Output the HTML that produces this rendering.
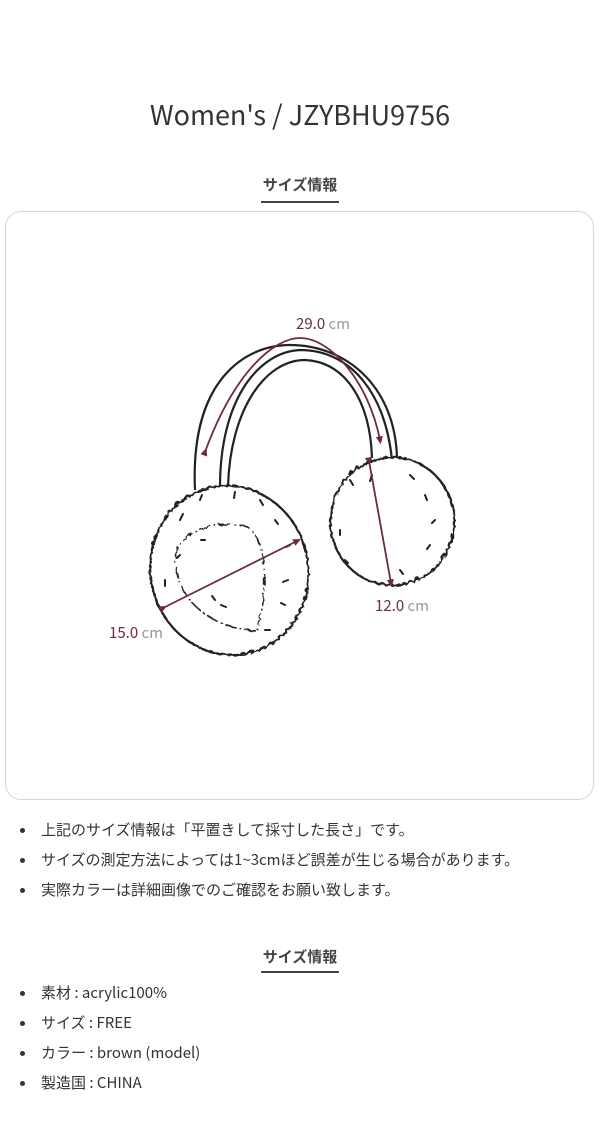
<!DOCTYPE html>
<html><head><meta charset="utf-8"><style>
body{margin:0;width:600px;height:1128px;background:#fff;font-family:"Noto Sans CJK JP","Liberation Sans",sans-serif;color:#333;position:relative;overflow:hidden}
.t{position:absolute;left:0;width:600px;text-align:center}
.h{position:absolute;left:0;width:600px;text-align:center;font-size:15px;font-weight:bold;color:#444;line-height:20px}
.u{position:absolute;left:261px;width:78px;height:2px;background:#444}
.box{position:absolute;left:5px;top:211px;width:587px;height:587px;border:1.5px solid #d6d6d6;border-radius:16px}
ul{position:absolute;left:0;margin:0;padding:0;list-style:none;font-size:15px;color:#333}
li{position:relative;padding-left:41px;height:30px;line-height:20px}
li:before{content:"";position:absolute;left:20px;top:8px;width:5px;height:5px;border-radius:50%;background:#333}
</style></head><body>
<div class="t" style="top:94px;font-size:27px;color:#333;line-height:40px">Women's / JZYBHU9756</div>
<div class="h" style="top:175px">サイズ情報</div><div class="u" style="top:201px"></div>
<div class="box"></div>
<svg style="position:absolute;left:0;top:0" width="600" height="1128">
<defs><filter id="f"><feTurbulence baseFrequency="0.15" numOctaves="1" seed="3"/><feDisplacementMap in="SourceGraphic" scale="4"/></filter>
<marker id="a" markerUnits="userSpaceOnUse" markerWidth="9" markerHeight="9" refX="4.5" refY="4.5" orient="auto"><path d="M1,1L9,4.5L1,8z" fill="#6b2b47"/></marker></defs>
<g fill="none" stroke="#222" stroke-width="2.2">
<path d="M195,490 C190,380 245,345 290,345 C345,345 395,385 397,458"/>
<path d="M220,487 C220,400 258,352 300,350 C350,350 385,392 392,460"/>
<path d="M228,487 C230,410 265,360 305,360 C345,362 370,400 372,458"/>
</g>
<g filter="url(#f)" fill="#fff" stroke="#222" stroke-width="2.3">
<ellipse cx="228" cy="569" rx="79" ry="85" transform="rotate(-15 228 569)"/>
<ellipse cx="391" cy="520" rx="62" ry="64"/>
<path d="M255,630 C200,625 170,590 175,550 C185,525 220,520 245,525 C270,540 265,600 255,630" stroke-width="1.5" stroke-dasharray="12 3 2 3"/>
</g>
<g stroke="#222" stroke-width="2" stroke-linecap="round">
<path d="M180,520l3,-6M200,500l2,-5M235,492l-1,6M260,500l3,5M275,520l3,4M290,545l-4,2M288,580l-5,2M285,605l-4,-2M270,630l-5,0M180,555l-3,3M205,540l-4,0M215,600l-3,-4M226,607l-5,-2M165,580l0,6M350,480l3,5M372,475l-2,6M410,475l4,4M425,495l2,5M435,520l-3,3M430,545l-3,4M340,530l0,5M345,560l3,3M400,570l3,4"/>
</g>
<g stroke="#6b2b47" stroke-width="1.8" fill="none">
<path d="M205,452 C235,370 275,338 300,338 C330,338 368,380 380,440" marker-start="url(#a)" marker-end="url(#a)"/>
<path d="M163,608 L297,541" marker-start="url(#a)" marker-end="url(#a)"/>
<path d="M369,461 L391,583" marker-start="url(#a)" marker-end="url(#a)"/>
</g>
<g font-size="15" font-family="Noto Sans CJK JP,Liberation Sans,sans-serif">
<text x="296" y="329" fill="#6b2b47">29.0 <tspan fill="#999">cm</tspan></text>
<text x="375" y="611" fill="#6b2b47">12.0 <tspan fill="#999">cm</tspan></text>
<text x="109" y="638" fill="#6b2b47">15.0 <tspan fill="#999">cm</tspan></text>
</g>
</svg>
<ul style="top:820px">
<li>上記のサイズ情報は「平置きして採寸した長さ」です。</li>
<li>サイズの測定方法によっては1~3cmほど誤差が生じる場合があります。</li>
<li>実際カラーは詳細画像でのご確認をお願い致します。</li>
</ul>
<div class="h" style="top:947px">サイズ情報</div><div class="u" style="top:971px"></div>
<ul style="top:983px">
<li>素材 : acrylic100%</li>
<li>サイズ : FREE</li>
<li>カラー : brown (model)</li>
<li>製造国 : CHINA</li>
</ul>
</body></html>
